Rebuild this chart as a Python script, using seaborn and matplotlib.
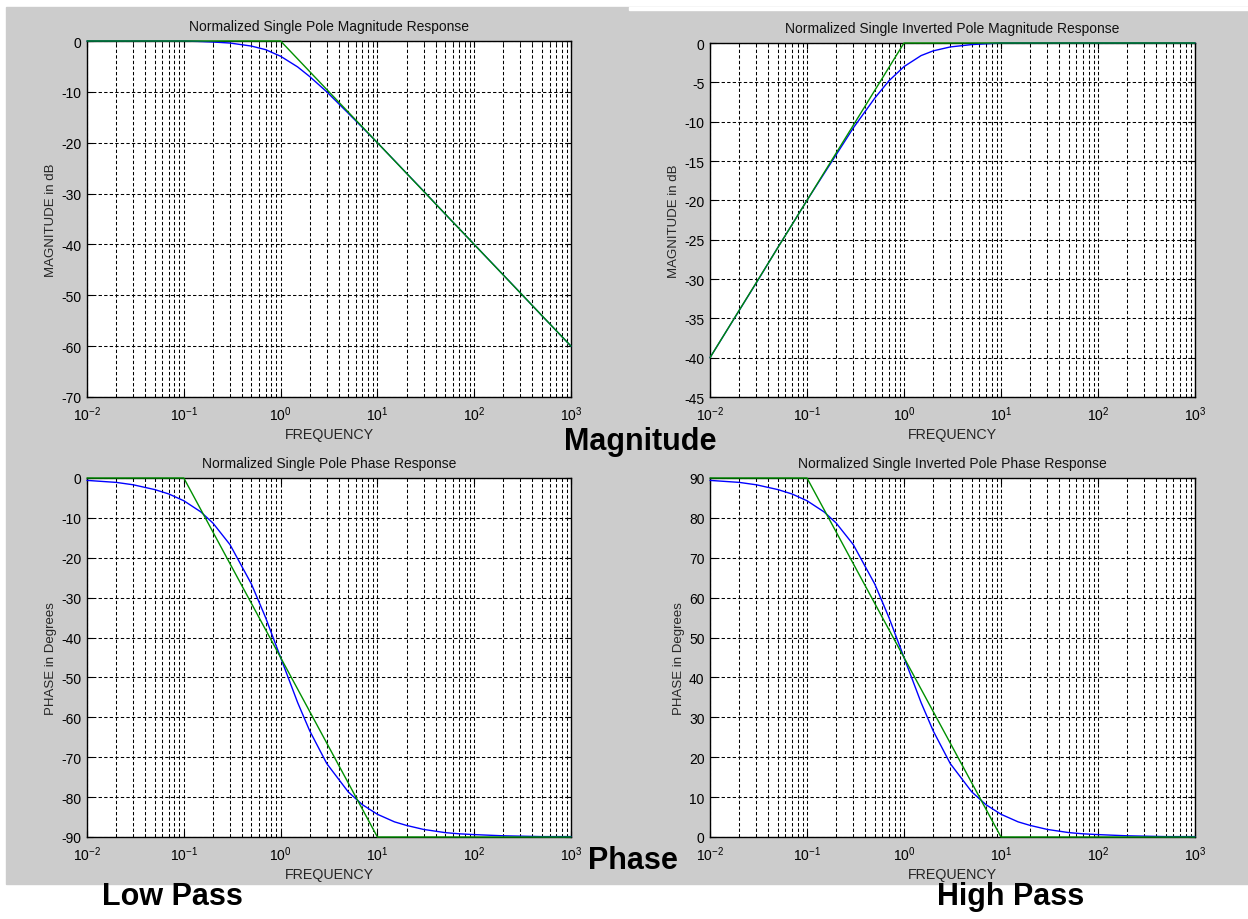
import matplotlib
matplotlib.use("Agg")
import matplotlib.pyplot as plt
import matplotlib.patches as mpatches
import pandas as pd
import seaborn as sns
from matplotlib.ticker import LogLocator, FixedLocator, NullFormatter

# values
freq = [0.01, 0.02, 0.03, 0.05, 0.07, 0.1, 0.15, 0.2, 0.3, 0.5, 0.7, 1, 1.5, 2,
        3, 5, 7, 10, 15, 20, 30, 50, 70, 100, 200, 500, 1000]
lp_mag = [0, 0, 0, 0, 0, 0, -0.1, -0.2, -0.4, -1.0, -1.7, -3.0, -5.1, -7.0,
          -10.0, -14.2, -17.0, -20.0, -23.5, -26.0, -29.5, -34.0, -36.9, -40.0,
          -46.0, -54.0, -60.0]
hp_mag = [-40.0, -34.0, -30.5, -26.0, -23.1, -20.0, -16.6, -14.2, -10.8, -7.0,
          -4.8, -3.0, -1.6, -1.0, -0.5, -0.2, -0.1, 0, 0, 0, 0, 0, 0, 0, 0, 0, 0]
lp_phase = [-0.6, -1.1, -1.7, -2.9, -4.0, -5.7, -8.5, -11.3, -16.7, -26.6, -35.0,
            -45.0, -56.3, -63.4, -71.6, -78.7, -81.9, -84.3, -86.2, -87.1, -88.1,
            -88.9, -89.2, -89.4, -89.7, -89.9, -89.9]
hp_phase = [89.4, 88.9, 88.3, 87.1, 86.0, 84.3, 81.5, 78.7, 73.3, 63.4, 55.0,
            45.0, 33.7, 26.6, 18.4, 11.3, 8.1, 5.7, 3.8, 2.9, 1.9, 1.1, 0.8,
            0.6, 0.3, 0.1, 0.1]

mag_asym_f = [0.01, 1, 1000]
lp_mag_asym = [0, 0, -60]
hp_mag_asym = [-40, 0, 0]
ph_asym_f = [0.01, 0.1, 10, 1000]
lp_ph_asym = [0, 0, -90, -90]
hp_ph_asym = [90, 90, 0, 0]

sns.set_theme(style="white")
plt.rcParams["font.family"] = ["Liberation Sans", "DejaVu Sans"]
plt.rcParams["mathtext.fontset"] = "custom"
plt.rcParams["mathtext.rm"] = "Liberation Sans"
plt.rcParams["axes.unicode_minus"] = False
plt.rcParams["lines.scale_dashes"] = False

W, H = 1248, 920
fig = plt.figure(figsize=(W / 100, H / 100), dpi=100, facecolor="white")

# grey MATLAB figure background
fig.patches.append(mpatches.Rectangle((6 / W, 1 - 885 / H), 1 - 6 / W, (885 - 8) / H,
                                      transform=fig.transFigure, color="#cccccc", zorder=-10))
fig.patches.append(mpatches.Rectangle((629 / W, 1 - 11 / H), 1 - 629 / W, 3 / H,
                                      transform=fig.transFigure, color="white", zorder=-9))


def make_ax(x0, x1, y0, y1):
    return fig.add_axes([x0 / W, 1 - y1 / H, (x1 - x0) / W, (y1 - y0) / H])


panels = [
    (make_ax(87, 571, 42, 398), freq, lp_mag, mag_asym_f, lp_mag_asym,
     "Normalized Single Pole Magnitude Response", "MAGNITUDE in dB", (-70, 0), 10),
    (make_ax(710, 1195, 44, 398), freq, hp_mag, mag_asym_f, hp_mag_asym,
     "Normalized Single Inverted Pole Magnitude Response", "MAGNITUDE in dB", (-45, 0), 5),
    (make_ax(87, 571, 479, 838), freq, lp_phase, ph_asym_f, lp_ph_asym,
     "Normalized Single Pole Phase Response", "PHASE in Degrees", (-90, 0), 10),
    (make_ax(710, 1195, 479, 838), freq, hp_phase, ph_asym_f, hp_ph_asym,
     "Normalized Single Inverted Pole Phase Response", "PHASE in Degrees", (0, 90), 10),
]

grid_kw = dict(color="black", linewidth=0.75, linestyle=(0, (2.4, 1.6)))

for ax, f, y, fa, ya, title, ylab, ylim, step in panels:
    ax.set_facecolor("white")
    df = pd.DataFrame({"f": f, "y": y})
    da = pd.DataFrame({"f": fa, "y": ya})
    sns.lineplot(data=df, x="f", y="y", ax=ax, color="#0000ff", linewidth=1.0,
                 estimator=None, sort=False, clip_on=False, zorder=4)
    sns.lineplot(data=da, x="f", y="y", ax=ax, color="#009000", linewidth=1.0,
                 estimator=None, sort=False, clip_on=False, zorder=5)
    ax.set_xscale("log")
    ax.set_xlim(0.01, 1000)
    ax.set_ylim(*ylim)
    ax.yaxis.set_major_locator(FixedLocator(list(range(ylim[0], ylim[1] + 1, step))))
    ax.xaxis.set_major_locator(LogLocator(base=10, numticks=10))
    ax.xaxis.set_minor_locator(LogLocator(base=10, subs=range(2, 10), numticks=100))
    ax.xaxis.set_minor_formatter(NullFormatter())
    ax.grid(True, which="major", axis="both", **grid_kw)
    ax.grid(True, which="minor", axis="x", **grid_kw)
    ax.set_axisbelow(True)
    ax.tick_params(which="both", direction="in", top=True, right=True,
                   bottom=True, left=True, colors="black", labelsize=10)
    ax.tick_params(which="major", length=4, width=0.8)
    ax.tick_params(which="minor", length=2, width=0.6)
    ax.tick_params(axis="y", pad=4)
    ax.tick_params(axis="x", pad=5)
    for s in ax.spines.values():
        s.set_visible(True)
        s.set_color("black")
        s.set_linewidth(1.0)
    ax.set_title(title, fontsize=10, pad=8, color="#111111")
    ax.set_xlabel("FREQUENCY", fontsize=10.3, labelpad=3)
    ax.set_ylabel(ylab, fontsize=9.5, labelpad=3)

big = dict(fontsize=22, fontweight="bold", color="black", family=["Liberation Sans", "DejaVu Sans"])
fig.text(640 / W, 1 - 450 / H, "Magnitude", ha="center", va="baseline", **big)
fig.text(633 / W, 1 - 869 / H, "Phase", ha="center", va="baseline", **big)
fig.text(172 / W, 1 - 905 / H, "Low Pass", ha="center", va="baseline", **big)
fig.text(1011 / W, 1 - 905 / H, "High Pass", ha="center", va="baseline", **big)

fig.savefig("out.png", dpi=100, facecolor=fig.get_facecolor())
